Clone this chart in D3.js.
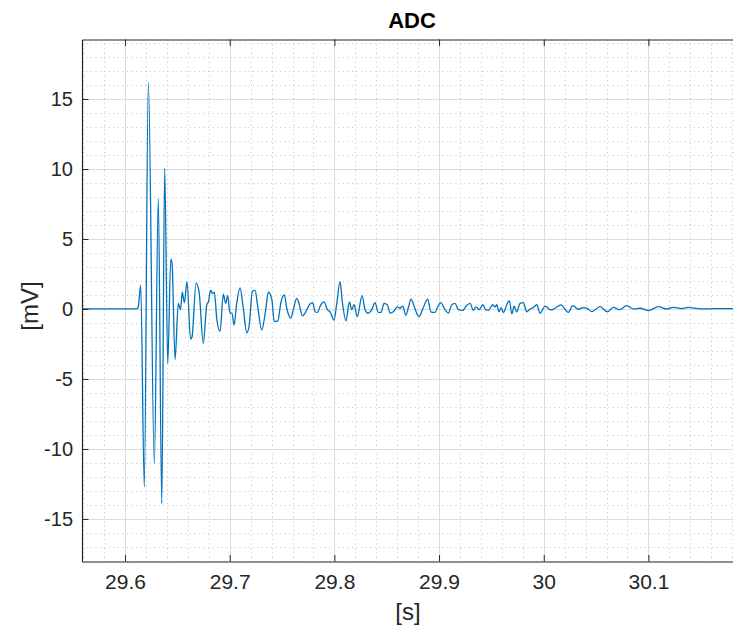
<!DOCTYPE html>
<html>
<head>
<meta charset="utf-8">
<script src="https://cdn.jsdelivr.net/npm/d3@7"></script>
<style>
  html, body { margin: 0; padding: 0; background: #fff; }
  svg { display: block; font-family: "Liberation Sans", Arial, Helvetica, sans-serif; }
</style>
</head>
<body>
<svg id="chart" width="733" height="626"></svg>
<script>
// ---- data (time in s, value in mV) ----
const times = [
  29.5589, 29.6105, 29.6125, 29.6150, 29.6184, 29.6223, 29.6280, 29.6318, 29.6351, 29.6379,
  29.6408, 29.6437, 29.6449, 29.6478, 29.6509, 29.6530, 29.6547, 29.6567, 29.6592, 29.6626,
  29.6640, 29.6678, 29.6707, 29.6748, 29.6781, 29.6796, 29.6819, 29.6836, 29.6853, 29.6876,
  29.6908, 29.6939, 29.6962, 29.6981, 29.7003, 29.7022, 29.7041, 29.7067, 29.7099, 29.7130,
  29.7163, 29.7185, 29.7216, 29.7242, 29.7268, 29.7306, 29.7344, 29.7369, 29.7402, 29.7426,
  29.7459, 29.7490, 29.7522, 29.7545, 29.7583, 29.7608, 29.7640, 29.7662, 29.7694, 29.7720,
  29.7767, 29.7793, 29.7815, 29.7837, 29.7870, 29.7901, 29.7933, 29.7959, 29.7997, 29.8023,
  29.8054, 29.8076, 29.8111, 29.8143, 29.8166, 29.8188, 29.8219, 29.8264, 29.8293, 29.8324,
  29.8357, 29.8388, 29.8420, 29.8446, 29.8474, 29.8506, 29.8532, 29.8570, 29.8601, 29.8627,
  29.8653, 29.8682, 29.8707, 29.8732, 29.8752, 29.8771, 29.8809, 29.8844, 29.8892, 29.8921,
  29.8962, 29.8987, 29.9016, 29.9057, 29.9089, 29.9121, 29.9153, 29.9184, 29.9226, 29.9258,
  29.9296, 29.9328, 29.9353, 29.9385, 29.9417, 29.9446, 29.9471, 29.9513, 29.9535, 29.9551,
  29.9573, 29.9592, 29.9614, 29.9647, 29.9672, 29.9695, 29.9717, 29.9742, 29.9774, 29.9805,
  29.9838, 29.9869, 29.9901, 29.9933, 29.9965, 30.0013, 30.0067, 30.0108, 30.0163, 30.0235,
  30.0277, 30.0331, 30.0379, 30.0414, 30.0459, 30.0538, 30.0608, 30.0665, 30.0722, 30.0793,
  30.0856, 30.0920, 30.1000, 30.1095, 30.1175, 30.1239, 30.1319, 30.1382, 30.1446, 30.1525,
  30.1609, 30.1701, 30.1809
];
const values = [
  0, 0, 0.1, 1.7, -12.7, 16.2, -11.1, 7.9, -13.9, 10.05,
  -3.9, 3.55, 3.3, -3.6, 0.4, -0.05, 1.2, 0.45, 1.95, -2.15,
  -2.0, 1.85, 1.25, -2.45, 0.3, 0.5, 1.35, 1.1, 1.2, -0.65,
  -1.6, 1.05, 0.4, 0.95, -0.3, -0.3, -1.15, 0.4, 1.5, 0.05,
  -1.7, -1.25, 1.25, 1.35, 0.15, -1.5, -0.05, 1.2, 0.7, -0.9,
  -0.85, 0.5, 1.0, 0.05, -0.65, -0.05, 0.75, 0.4, -0.5, -0.3,
  0.35, 0.45, -0.2, -0.25, 0.3, 0.5, -0.05, -0.2, -0.8, 0.4,
  1.95, 0.5, -0.85, 0.5, -0.05, 0.3, -0.55, 0.95, -0.05, -0.3,
  -0.05, 0.45, -0.25, -0.25, 0.4, 0.3, -0.3, -0.15, 0.15, 0.05,
  0.2, -0.45, 0.1, 0.7, 0.4, 0.0, -0.55, 0.0, 0.7, -0.2,
  -0.25, 0.15, 0.45, -0.05, -0.3, 0.3, 0.4, -0.05, -0.1, 0.2,
  0.4, -0.1, 0.15, -0.05, 0.3, -0.05, -0.1, 0.3, 0.15, 0.3,
  -0.2, 0.1, -0.25, 0.3, 0.6, -0.35, 0.2, -0.2, 0.4, 0.45,
  -0.2, 0.0, 0.1, 0.3, -0.3, 0.2, -0.07, 0.05, 0.29, -0.24,
  0.24, -0.02, 0.1, 0.05, -0.19, 0.17, -0.21, 0.12, -0.05, 0.24,
  0.0, 0.05, -0.12, 0.17, 0.0, 0.12, 0.03, 0.12, 0.05, 0.0,
  0.02, 0.02, 0.02
];
const xTicks = [29.6, 29.7, 29.8, 29.9, 30.0, 30.1];
const xTickLabels = ["29.6", "29.7", "29.8", "29.9", "30", "30.1"];
const yTicks = [-15, -10, -5, 0, 5, 10, 15];
const yTickLabels = ["-15", "-10", "-5", "0", "5", "10", "15"];
const xMinorTicks = d3.range(29.56, 30.2001, 0.02).map(v => +v.toFixed(2));
const yMinorTicks = d3.range(-18, 20, 1);
const xDomain = [29.5589, 30.1894];
const yDomain = [-18.04, 19.25];
const titleText = "ADC";
const xLabelText = "[s]";
const yLabelText = "[mV]";

// ---- layout ----
const L = 82, T = 39.5, B = 561.5, R = 742;
const svg = d3.select("#chart");
const x = d3.scaleLinear().domain(xDomain).range([L, R]);
const y = d3.scaleLinear().domain(yDomain).range([B, T]);
const axisColor = "#262626";

svg.append("defs").append("clipPath").attr("id", "clip")
  .append("rect").attr("x", L).attr("y", T).attr("width", R - L).attr("height", B - T);

// minor grid
const gMinor = svg.append("g").attr("stroke", "#c4c4c4").attr("stroke-width", 1)
  .attr("stroke-dasharray", "1,3.5").attr("fill", "none");
xMinorTicks.filter(v => v > xDomain[0] && v < xDomain[1] && !xTicks.some(t => Math.abs(t - v) < 1e-6))
  .forEach(v => gMinor.append("line").attr("x1", Math.round(x(v)) + 0.5).attr("x2", Math.round(x(v)) + 0.5)
    .attr("y1", T).attr("y2", B));
yMinorTicks.filter(v => v > yDomain[0] && v < yDomain[1] && v % 5 !== 0)
  .forEach(v => gMinor.append("line").attr("y1", Math.round(y(v)) + 0.5).attr("y2", Math.round(y(v)) + 0.5)
    .attr("x1", L).attr("x2", R));

// major grid
const gMajor = svg.append("g").attr("stroke", "#dcdcdc").attr("stroke-width", 1);
xTicks.forEach(v => gMajor.append("line").attr("x1", Math.round(x(v)) + 0.5).attr("x2", Math.round(x(v)) + 0.5)
  .attr("y1", T).attr("y2", B));
yTicks.forEach(v => gMajor.append("line").attr("y1", Math.round(y(v)) + 0.5).attr("y2", Math.round(y(v)) + 0.5)
  .attr("x1", L).attr("x2", R));

// data line
const data = times.map((t, i) => ({ t, v: values[i] }));
const line = d3.line().x(d => x(d.t)).y(d => y(d.v)).curve(d3.curveMonotoneX);
svg.append("path").datum(data).attr("clip-path", "url(#clip)")
  .attr("d", line).attr("fill", "none").attr("stroke", "#0072BD")
  .attr("stroke-width", 1.3).attr("stroke-linejoin", "round");

// axes
const tickLen = 6.5;
const xAxisBottom = d3.axisBottom(x).tickValues(xTicks).tickFormat((d, i) => xTickLabels[i])
  .tickSizeInner(-tickLen).tickSizeOuter(0).tickPadding(13);
const gx = svg.append("g").attr("transform", `translate(0,${B})`).call(xAxisBottom);
const xAxisTop = d3.axisTop(x).tickValues(xTicks).tickFormat("").tickSizeInner(-tickLen).tickSizeOuter(0);
const gxt = svg.append("g").attr("transform", `translate(0,${T})`).call(xAxisTop);
const yAxisLeft = d3.axisLeft(y).tickValues(yTicks).tickFormat((d, i) => yTickLabels[i])
  .tickSizeInner(-tickLen).tickSizeOuter(0).tickPadding(9);
const gy = svg.append("g").attr("transform", `translate(${L},0)`).call(yAxisLeft);

[gx, gxt, gy].forEach(g => {
  g.select(".domain").attr("stroke", axisColor).attr("stroke-width", 1.2);
  g.selectAll(".tick line").attr("stroke", axisColor).attr("stroke-width", 1);
  g.selectAll(".tick text").attr("fill", axisColor)
    .attr("font-family", "'Liberation Sans', Arial, Helvetica, sans-serif");
});
gx.selectAll(".tick text").attr("font-size", 21);
gy.selectAll(".tick text").attr("font-size", 20);

// titles
svg.append("text").attr("x", 412).attr("y", 28).attr("text-anchor", "middle")
  .attr("font-weight", "bold").attr("font-size", 22).attr("fill", "#000").text(titleText);
svg.append("text").attr("x", 408).attr("y", 620).attr("text-anchor", "middle")
  .attr("font-size", 24).attr("fill", axisColor).text(xLabelText);
svg.append("text").attr("transform", "translate(38,306) rotate(-90)").attr("text-anchor", "middle")
  .attr("font-size", 24).attr("fill", axisColor).text(yLabelText);
</script>
</body>
</html>
